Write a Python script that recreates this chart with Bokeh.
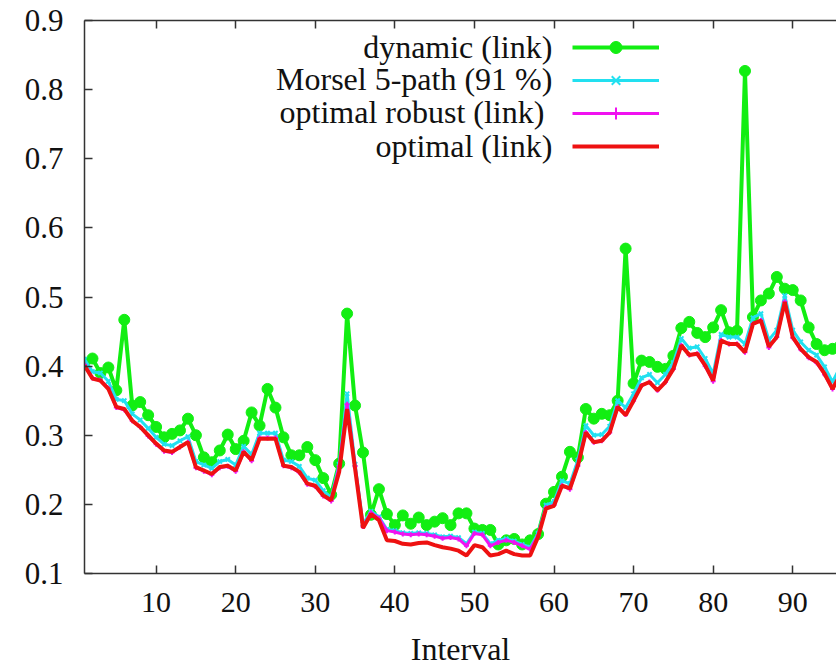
from bokeh.plotting import figure
from bokeh.models import Range1d, LinearAxis, FixedTicker, Legend, LegendItem, Label
from bokeh.core.properties import value
from bokeh.embed import file_html
from bokeh.resources import INLINE

interval = list(range(1, 97))

dynamic = [0.405, 0.411, 0.390, 0.398, 0.365, 0.467, 0.343, 0.348, 0.329, 0.312,
           0.297, 0.302, 0.307, 0.324, 0.300, 0.268, 0.261, 0.278, 0.301, 0.280,
           0.292, 0.333, 0.314, 0.367, 0.340, 0.297, 0.271, 0.271, 0.283, 0.264,
           0.238, 0.214, 0.259, 0.476, 0.343, 0.275, 0.185, 0.222, 0.186, 0.170,
           0.184, 0.172, 0.181, 0.170, 0.175, 0.180, 0.170, 0.187, 0.187, 0.165,
           0.163, 0.163, 0.142, 0.148, 0.150, 0.142, 0.148, 0.157, 0.201, 0.218,
           0.240, 0.276, 0.268, 0.338, 0.324, 0.331, 0.329, 0.350, 0.570, 0.375,
           0.408, 0.406, 0.399, 0.396, 0.415, 0.455, 0.464, 0.448, 0.442, 0.456,
           0.481, 0.449, 0.451, 0.827, 0.471, 0.495, 0.505, 0.529, 0.512, 0.510,
           0.495, 0.456, 0.432, 0.423, 0.425, 0.430]

morsel = [0.410, 0.392, 0.390, 0.378, 0.352, 0.350, 0.331, 0.322, 0.310, 0.297,
          0.287, 0.285, 0.292, 0.298, 0.262, 0.257, 0.252, 0.262, 0.265, 0.257,
          0.284, 0.272, 0.303, 0.303, 0.303, 0.264, 0.262, 0.255, 0.238, 0.235,
          0.220, 0.210, 0.258, 0.360, 0.258, 0.172, 0.190, 0.182, 0.164, 0.162,
          0.159, 0.158, 0.159, 0.158, 0.156, 0.153, 0.154, 0.152, 0.143, 0.160,
          0.158, 0.143, 0.148, 0.150, 0.147, 0.142, 0.138, 0.158, 0.199, 0.204,
          0.234, 0.230, 0.264, 0.314, 0.300, 0.301, 0.313, 0.350, 0.340, 0.360,
          0.383, 0.388, 0.376, 0.388, 0.405, 0.440, 0.426, 0.428, 0.411, 0.389,
          0.446, 0.442, 0.442, 0.432, 0.470, 0.476, 0.438, 0.452, 0.502, 0.452,
          0.435, 0.423, 0.416, 0.399, 0.377, 0.400]

robust = [0.402, 0.383, 0.380, 0.368, 0.340, 0.337, 0.321, 0.312, 0.299, 0.287,
          0.277, 0.275, 0.283, 0.290, 0.253, 0.248, 0.243, 0.253, 0.255, 0.248,
          0.276, 0.263, 0.296, 0.296, 0.296, 0.256, 0.253, 0.246, 0.229, 0.226,
          0.212, 0.205, 0.255, 0.345, 0.255, 0.168, 0.188, 0.180, 0.162, 0.160,
          0.157, 0.156, 0.157, 0.156, 0.154, 0.151, 0.152, 0.150, 0.140, 0.158,
          0.156, 0.140, 0.145, 0.148, 0.145, 0.140, 0.135, 0.155, 0.195, 0.199,
          0.227, 0.222, 0.256, 0.304, 0.290, 0.292, 0.304, 0.341, 0.330, 0.350,
          0.372, 0.377, 0.365, 0.377, 0.396, 0.430, 0.416, 0.418, 0.400, 0.378,
          0.437, 0.432, 0.432, 0.420, 0.461, 0.466, 0.427, 0.442, 0.493, 0.441,
          0.424, 0.412, 0.405, 0.388, 0.367, 0.390]

optimal = [0.401, 0.382, 0.379, 0.367, 0.341, 0.338, 0.321, 0.312, 0.300, 0.288,
           0.278, 0.276, 0.283, 0.290, 0.254, 0.249, 0.244, 0.254, 0.256, 0.249,
           0.276, 0.264, 0.295, 0.295, 0.295, 0.256, 0.254, 0.247, 0.230, 0.227,
           0.213, 0.206, 0.247, 0.338, 0.252, 0.166, 0.186, 0.177, 0.148, 0.147,
           0.143, 0.142, 0.144, 0.145, 0.141, 0.138, 0.136, 0.133, 0.126, 0.141,
           0.138, 0.126, 0.128, 0.133, 0.128, 0.126, 0.126, 0.153, 0.194, 0.198,
           0.227, 0.223, 0.256, 0.304, 0.290, 0.292, 0.304, 0.341, 0.329, 0.350,
           0.372, 0.377, 0.365, 0.377, 0.396, 0.430, 0.416, 0.418, 0.401, 0.379,
           0.437, 0.432, 0.432, 0.420, 0.461, 0.466, 0.428, 0.442, 0.493, 0.442,
           0.425, 0.413, 0.406, 0.389, 0.367, 0.388]

x_ticks = [10, 20, 30, 40, 50, 60, 70, 80, 90]
y_ticks = [0.1, 0.2, 0.3, 0.4, 0.5, 0.6, 0.7, 0.8, 0.9]
y_tick_labels = ["0.1", "0.2", "0.3", "0.4", "0.5", "0.6", "0.7", "0.8", "0.9"]
series_names = ["dynamic (link)", "Morsel 5-path (91 %)", "optimal  robust (link)", "optimal (link)"]
x_label = "Interval"

FONT = "Liberation Serif"
GREEN = "#12ee12"
CYAN = "#22e0f0"
MAGENTA = "#f012f0"
RED = "#ee1111"
AXIS = "#333333"

p = figure(width=836, height=669, x_range=Range1d(1, 95.5), y_range=Range1d(0.1, 0.9),
           output_backend="svg", toolbar_location=None,
           min_border_left=84, min_border_right=0, min_border_top=20, min_border_bottom=96)
p.background_fill_color = "white"
p.border_fill_color = "white"
p.outline_line_color = None
p.grid.visible = False

def style_axis(ax, show_labels=True, size="31px"):
    ax.axis_line_color = AXIS
    ax.axis_line_width = 1.5
    ax.major_tick_line_color = AXIS
    ax.major_tick_line_width = 1.5
    ax.major_tick_in = 8
    ax.major_tick_out = 0
    ax.minor_tick_line_color = None
    ax.major_label_text_font = FONT
    ax.major_label_text_color = "#111111"
    if show_labels:
        ax.major_label_text_font_size = size
    else:
        ax.major_label_text_font_size = "1px"
        ax.major_label_text_color = None
        ax.major_label_standoff = 0

xa = p.xaxis[0]
xa.ticker = FixedTicker(ticks=x_ticks)
style_axis(xa, size="30px")
xa.major_label_standoff = 19
xa.axis_label = x_label
xa.axis_label_text_font = FONT
xa.axis_label_text_font_size = "32px"
xa.axis_label_text_font_style = "normal"
xa.axis_label_text_color = "#111111"
xa.axis_label_standoff = 16

ya = p.yaxis[0]
ya.ticker = FixedTicker(ticks=y_ticks)
ya.major_label_overrides = {t: s for t, s in zip(y_ticks, y_tick_labels)}
style_axis(ya)
ya.major_label_standoff = 21

top = LinearAxis(ticker=FixedTicker(ticks=x_ticks))
style_axis(top, show_labels=False)
p.add_layout(top, "above")

# series
r1l = p.line(interval, dynamic, color=GREEN, line_width=4)
r1m = p.scatter(interval, dynamic, marker="circle", size=11, color=GREEN)
r2l = p.line(interval, morsel, color=CYAN, line_width=3)
r2m = p.scatter(interval, morsel, marker="x", size=6, line_color=CYAN, line_width=2)
r3l = p.line(interval, robust, color=MAGENTA, line_width=3)
r3m = p.scatter(interval, robust, marker="cross", size=5, line_color=MAGENTA, line_width=2)
r4l = p.line(interval, optimal, color=RED, line_width=4)

legend = Legend(items=[
    LegendItem(label=value(" "), renderers=[r1l, r1m]),
    LegendItem(label=value(" "), renderers=[r2l, r2m]),
    LegendItem(label=value(" "), renderers=[r3l, r3m]),
    LegendItem(label=value(" "), renderers=[r4l]),
], location=(488, 412), glyph_width=87, glyph_height=30, label_height=30,
   label_width=1, spacing=3, padding=0, margin=0, border_line_color=None,
   background_fill_alpha=0, label_text_font_size="1px", label_text_color=None,
   label_standoff=0)
p.add_layout(legend)

label_x = 59.8
label_ys = [0.861, 0.815, 0.767, 0.719]
for name, ly in zip(series_names, label_ys):
    p.add_layout(Label(x=label_x, y=ly, text=name, text_align="right", text_baseline="middle",
                       text_font=FONT, text_font_size="32px", text_color="#111111"))

open("out.html", "w").write(file_html(p, INLINE))
